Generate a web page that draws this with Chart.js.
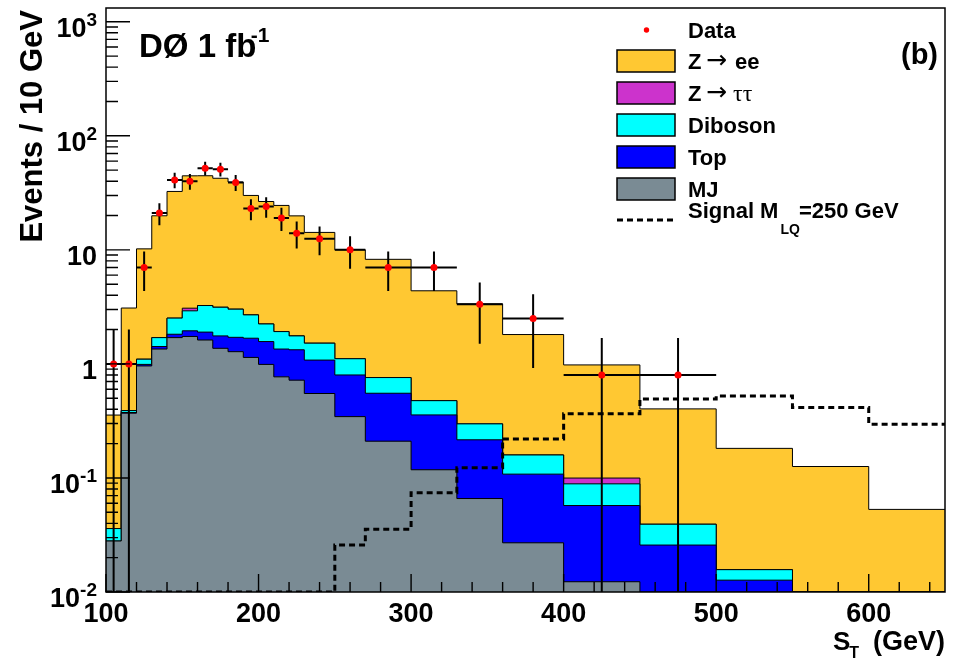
<!DOCTYPE html>
<html>
<head>
<meta charset="utf-8">
<title>S_T distribution, DØ 1 fb-1</title>
<script src="https://cdn.jsdelivr.net/npm/chart.js@4.4.1/dist/chart.umd.min.js"></script>
<style>
  html, body { margin: 0; padding: 0; background: #fff; }
  #wrap { width: 962px; height: 659px; }
</style>
</head>
<body>
<div id="wrap"><canvas id="st-chart" width="962" height="659"></canvas></div>
<script>
// bin edges in GeV (variable width above 230 GeV)
const binEdges = [100, 110, 120, 130, 140, 150, 160, 170, 180, 190, 200, 210, 220, 230,
  250, 270, 300, 330, 360, 400, 450, 500, 550, 600, 650];

// background components, events / 10 GeV, stacked bottom to top
const mjVals = [0.028, 0.37, 0.96, 1.35, 1.70, 1.74, 1.62, 1.37, 1.28, 1.14, 0.99, 0.77,
  0.72, 0.55, 0.345, 0.21, 0.118, 0.066, 0.027, 0.0123, 0, 0, 0, 0];
const topVals = [0, 0.005, 0.03, 0.07, 0.12, 0.21, 0.28, 0.39, 0.43, 0.54, 0.58, 0.58,
  0.61, 0.53, 0.455, 0.343, 0.239, 0.15, 0.081, 0.045, 0.0258, 0.0127, 0, 0];
const dibosonVals = [0.008, 0.015, 0.11, 0.28, 0.70, 0.97, 1.35, 1.38, 1.31, 1.01, 0.67, 0.57,
  0.43, 0.44, 0.31, 0.206, 0.119, 0.082, 0.051, 0.0315, 0.0135, 0.003, 0, 0];
const zttVals = [0, 0, 0, 0, 0, 0.16, 0, 0, 0, 0, 0, 0,
  0, 0, 0, 0, 0, 0, 0, 0.011, 0, 0, 0, 0];
const zeeVals = [0.32, 2.7, 9.1, 18.2, 30.0, 41.5, 41.4, 39.3, 36.3, 27.3, 24.3, 22.6,
  18.1, 12.7, 8.9, 7.5, 3.9, 3.06, 1.65, 0.88, 0.364, 0.166, 0.126, 0.053];

// leptoquark signal, M_LQ = 250 GeV
const signalVals = [0, 0, 0, 0, 0, 0, 0, 0, 0, 0, 0, 0,
  0, 0, 0.0258, 0.0355, 0.0743, 0.123, 0.22, 0.366, 0.493, 0.524, 0.414, 0.296];

// data (first 21 bins) and its error bars
const dataVals = [1, 1, 7, 21, 41, 40, 52, 51, 39, 23, 24, 19, 14, 12.5, 10, 7, 7, 3.33, 2.5, 0.8, 0.8];
const dataErr = [1, 1, 2.65, 4.58, 6.40, 6.32, 7.21, 7.14, 6.24, 4.80, 4.90, 4.36, 3.74, 3.54,
  3.16, 2.65, 2.65, 1.83, 1.58, 0.89, 0.89];

// axes
const X_MIN = 100;
const X_MAX = 650;
const Y_MIN = 0.01;
const Y_MAX = 1320;
const xTickValues = [100, 200, 300, 400, 500, 600];
const xTickLabels = ["100", "200", "300", "400", "500", "600"];
const xMinorStep = 20;
const yTickValues = [1000, 100, 10, 1, 0.1, 0.01];
const yTickBase = ["10", "10", "10", "1", "10", "10"];
const yTickExp = ["3", "2", "", "", "-1", "-2"];

const COLORS = {
  zee: "#ffc832",
  ztt: "#cc33cc",
  diboson: "#00ffff",
  top: "#0000ff",
  mj: "#7a8b94",
  data: "#ff0000",
};

const FONT = '"Liberation Sans", Arial, Helvetica, sans-serif';
const SERIF = '"Liberation Serif", "DejaVu Serif", serif';
const ARROW_FONT = '"DejaVu Sans", sans-serif';

function stackUp(...layers) {
  return layers[0].map((_, i) => layers.reduce((s, a) => s + a[i], 0));
}

// one point per bin edge; last value repeated so the final step reaches 650
function histPoints(vals) {
  return binEdges.map((x, i) => {
    const v = i < vals.length ? vals[i] : vals[vals.length - 1];
    return { x, y: v > Y_MIN ? v : Y_MIN };
  });
}

function dataPoints() {
  return dataVals.map((v, i) => ({ x: (binEdges[i] + binEdges[i + 1]) / 2, y: v }));
}

function histDataset(label, vals, color) {
  return {
    label,
    data: histPoints(vals),
    stepped: true,
    borderColor: "#000",
    borderWidth: 1,
    backgroundColor: color,
    fill: "start",
    pointRadius: 0,
  };
}

function text(ctx, str, x, y, size, align, font, weight) {
  ctx.font = `${weight || "bold"} ${size}px ${font || FONT}`;
  ctx.textAlign = align || "left";
  ctx.textBaseline = "alphabetic";
  ctx.fillText(str, x, y);
  return ctx.measureText(str).width;
}

function drawErrorBars(chart) {
  const ctx = chart.ctx;
  const xs = chart.scales.x;
  const ys = chart.scales.y;
  const area = chart.chartArea;
  ctx.save();
  ctx.beginPath();
  ctx.rect(area.left, area.top, area.right - area.left, area.bottom - area.top);
  ctx.clip();
  ctx.strokeStyle = "#000";
  ctx.lineWidth = 2;
  dataVals.forEach((v, i) => {
    const xc = xs.getPixelForValue((binEdges[i] + binEdges[i + 1]) / 2);
    const yc = ys.getPixelForValue(v);
    const lo = v - dataErr[i];
    const yLo = lo > Y_MIN ? ys.getPixelForValue(lo) : area.bottom;
    const yHi = ys.getPixelForValue(v + dataErr[i]);
    ctx.beginPath();
    ctx.moveTo(xc, yHi);
    ctx.lineTo(xc, yLo);
    ctx.moveTo(xs.getPixelForValue(binEdges[i]), yc);
    ctx.lineTo(xs.getPixelForValue(binEdges[i + 1]), yc);
    ctx.stroke();
  });
  ctx.restore();
}

function drawFrameAndTicks(chart) {
  const ctx = chart.ctx;
  const xs = chart.scales.x;
  const ys = chart.scales.y;
  const a = chart.chartArea;
  ctx.save();
  ctx.strokeStyle = "#000";
  ctx.lineWidth = 1.4;
  ctx.beginPath();
  // x ticks, inside the frame
  for (let v = X_MIN; v <= X_MAX; v += xMinorStep) {
    const px = xs.getPixelForValue(v);
    const len = v % 100 === 0 ? 18 : 10;
    ctx.moveTo(px, a.bottom);
    ctx.lineTo(px, a.bottom - len);
  }
  // y ticks: decades and 2..9 minors
  for (let e = -2; e <= 3; e++) {
    for (let m = 1; m <= 9; m++) {
      const v = m * Math.pow(10, e);
      if (v > Y_MAX) break;
      const py = ys.getPixelForValue(v);
      const len = m === 1 ? 24 : 12;
      ctx.moveTo(a.left, py);
      ctx.lineTo(a.left + len, py);
    }
  }
  ctx.stroke();
  ctx.lineWidth = 1.5;
  ctx.strokeRect(a.left, a.top, a.right - a.left, a.bottom - a.top);
  ctx.restore();
}

function drawLabels(chart) {
  const ctx = chart.ctx;
  const xs = chart.scales.x;
  const ys = chart.scales.y;
  ctx.save();
  ctx.fillStyle = "#000";

  xTickValues.forEach((v, i) => {
    text(ctx, xTickLabels[i], xs.getPixelForValue(v), 622, 27, "center");
  });

  yTickValues.forEach((v, i) => {
    const py = ys.getPixelForValue(v);
    let right = 97;
    if (yTickExp[i]) {
      right -= text(ctx, yTickExp[i], right, py + 4, 19, "right");
    }
    text(ctx, yTickBase[i], right, py + 15, 27, "right");
  });

  // axis titles
  const sw = text(ctx, "S", 833, 650, 26, "left");
  text(ctx, "T", 833 + sw - 1, 658, 16, "left");
  text(ctx, "(GeV)", 945, 650, 27, "right");

  ctx.save();
  ctx.translate(42, 10);
  ctx.rotate(-Math.PI / 2);
  text(ctx, "Events / 10 GeV", 0, 0, 31, "right");
  ctx.restore();

  // experiment label and panel tag
  const w = text(ctx, "DØ 1 fb", 139, 57, 33, "left");
  text(ctx, "-1", 139 + w + 13, 42, 21, "right");
  text(ctx, "(b)", 938, 64, 29, "right");
  ctx.restore();
}

function drawLegend(chart) {
  const ctx = chart.ctx;
  const boxX = 617;
  const boxW = 58;
  const boxH = 22;
  const textX = 688;
  ctx.save();
  ctx.fillStyle = COLORS.data;
  ctx.beginPath();
  ctx.arc(646.5, 30, 2.7, 0, Math.PI * 2);
  ctx.fill();
  ctx.fillStyle = "#000";
  text(ctx, "Data", textX, 38, 22);

  const rows = [
    { color: COLORS.zee, cy: 61, label: "ee", decay: "ee" },
    { color: COLORS.ztt, cy: 93, label: "ττ", decay: "tautau" },
    { color: COLORS.diboson, cy: 125, label: "Diboson" },
    { color: COLORS.top, cy: 157, label: "Top" },
    { color: COLORS.mj, cy: 189, label: "MJ" },
  ];
  rows.forEach((r) => {
    ctx.fillStyle = r.color;
    ctx.fillRect(boxX, r.cy - boxH / 2, boxW, boxH);
    ctx.strokeStyle = "#000";
    ctx.lineWidth = 1.5;
    ctx.strokeRect(boxX, r.cy - boxH / 2, boxW, boxH);
    ctx.fillStyle = "#000";
    const base = r.cy + 8;
    if (r.decay) {
      text(ctx, "Z", textX, base, 22);
      text(ctx, "→", 706, base - 1, 25, "left", ARROW_FONT, "normal");
      if (r.decay === "tautau") {
        text(ctx, r.label, 733, base, 24, "left", SERIF, "normal");
      } else {
        text(ctx, r.label, 735, base, 22);
      }
    } else {
      text(ctx, r.label, textX, base, 22);
    }
  });

  ctx.strokeStyle = "#000";
  ctx.lineWidth = 3;
  ctx.setLineDash([6, 4]);
  ctx.beginPath();
  ctx.moveTo(boxX, 220);
  ctx.lineTo(boxX + 57, 220);
  ctx.stroke();
  ctx.setLineDash([]);
  const sw = text(ctx, "Signal M", textX, 218, 22);
  const lw = text(ctx, "LQ", textX + sw + 2, 234, 14);
  text(ctx, "=250 GeV", textX + sw + lw + 1, 218, 22);
  ctx.restore();
}

const rootStylePlugin = {
  id: "rootStyle",
  beforeDraw(chart) {
    const ctx = chart.ctx;
    ctx.save();
    ctx.fillStyle = "#fff";
    ctx.fillRect(0, 0, chart.width, chart.height);
    ctx.restore();
  },
  beforeDatasetDraw(chart, args) {
    if (args.index === 0) drawErrorBars(chart);
  },
  afterDraw(chart) {
    drawFrameAndTicks(chart);
    drawLabels(chart);
    drawLegend(chart);
  },
};

function initChart() {
  const cumMJ = mjVals;
  const cumTop = stackUp(mjVals, topVals);
  const cumDib = stackUp(mjVals, topVals, dibosonVals);
  const cumZtt = stackUp(mjVals, topVals, dibosonVals, zttVals);
  const cumZee = stackUp(mjVals, topVals, dibosonVals, zttVals, zeeVals);

  const canvas = document.getElementById("st-chart");
  new Chart(canvas, {
    type: "line",
    data: {
      datasets: [
        {
          label: "Data",
          data: dataPoints(),
          showLine: false,
          pointRadius: 3.5,
          pointBackgroundColor: COLORS.data,
          pointBorderWidth: 0,
        },
        {
          label: "Signal MLQ=250 GeV",
          data: histPoints(signalVals),
          stepped: true,
          borderColor: "#000",
          borderWidth: 3,
          borderDash: [6, 4],
          pointRadius: 0,
          fill: false,
        },
        histDataset("MJ", cumMJ, COLORS.mj),
        histDataset("Top", cumTop, COLORS.top),
        histDataset("Diboson", cumDib, COLORS.diboson),
        histDataset("Z→ττ", cumZtt, COLORS.ztt),
        histDataset("Z→ee", cumZee, COLORS.zee),
      ],
    },
    options: {
      responsive: false,
      animation: false,
      events: [],
      devicePixelRatio: 1,
      layout: { padding: { left: 106, right: 17, top: 8, bottom: 67 } },
      plugins: {
        legend: { display: false },
        tooltip: { enabled: false },
      },
      scales: {
        x: { type: "linear", min: X_MIN, max: X_MAX, display: false },
        y: { type: "logarithmic", min: Y_MIN, max: Y_MAX, display: false },
      },
    },
    plugins: [rootStylePlugin],
  });
}

document.addEventListener("DOMContentLoaded", initChart);
</script>
</body>
</html>
